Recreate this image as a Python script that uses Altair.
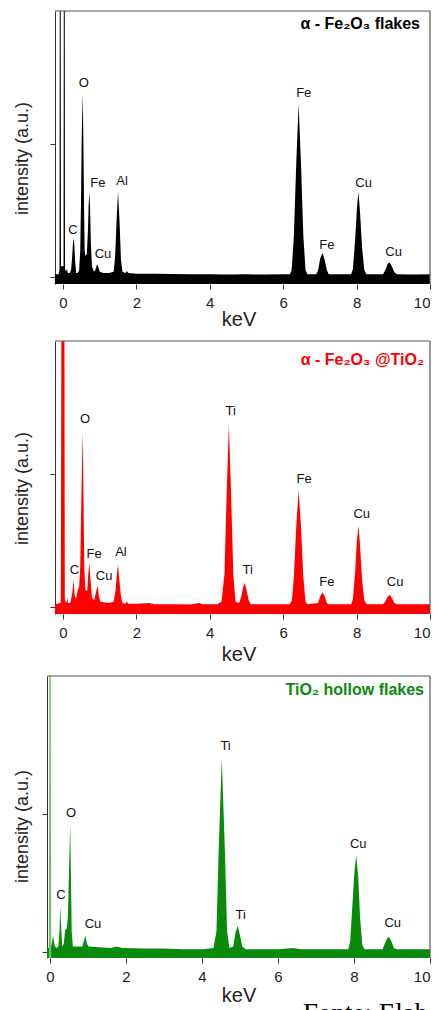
import altair as alt
import pandas as pd

FONT = "Liberation Sans"

# ---------------- Panel 1: alpha-Fe2O3 flakes (black) ----------------
e1 = [-0.22, -0.12, -0.095, -0.085, -0.065, -0.055, -0.03, 0.0, 0.015, 0.025, 0.045, 0.055,
      0.08, 0.11, 0.13, 0.18, 0.22, 0.25, 0.27, 0.29, 0.31, 0.33, 0.36, 0.40, 0.44, 0.47, 0.49,
      0.51, 0.535, 0.555, 0.575, 0.59, 0.61, 0.65, 0.68, 0.70, 0.72, 0.74, 0.76, 0.79, 0.84,
      0.88, 0.91, 0.94, 0.97, 1.00, 1.10, 1.25, 1.38, 1.42, 1.46, 1.50, 1.54, 1.58, 1.62,
      1.70, 1.74, 1.78, 2.0, 2.5, 3.0, 3.5, 4.0, 4.5, 5.0, 5.5, 6.0, 6.18, 6.23, 6.29, 6.355,
      6.42, 6.485, 6.55, 6.61, 6.66, 6.90, 6.95, 7.01, 7.07, 7.13, 7.19, 7.24, 7.85, 7.90,
      7.96, 8.01, 8.05, 8.09, 8.15, 8.21, 8.27, 8.72, 8.78, 8.85, 8.90, 8.96, 9.03, 9.10,
      9.5, 10.0]
i1 = [0.02, 0.02, 0.05, 3.0, 3.0, 0.08, 0.08, 0.08, 0.08, 3.0, 3.0, 0.06,
      0.04, 0.06, 0.03, 0.03, 0.05, 0.15, 0.25, 0.29, 0.24, 0.12, 0.03, 0.03, 0.05, 0.20, 0.55,
      1.05, 1.38, 1.05, 0.50, 0.20, 0.16, 0.17, 0.35, 0.55, 0.64, 0.50, 0.25, 0.08, 0.04,
      0.05, 0.08, 0.095, 0.07, 0.04, 0.03, 0.03, 0.04, 0.15, 0.42, 0.64, 0.42, 0.13, 0.04,
      0.03, 0.045, 0.03, 0.025, 0.025, 0.022, 0.02, 0.02, 0.018, 0.02, 0.018, 0.02, 0.02, 0.05, 0.30, 0.85,
      1.30, 0.85, 0.30, 0.05, 0.02, 0.02, 0.05, 0.14, 0.18, 0.13, 0.05, 0.02, 0.02, 0.06,
      0.28, 0.52, 0.64, 0.50, 0.22, 0.05, 0.02, 0.02, 0.05, 0.10, 0.108, 0.08, 0.035, 0.02,
      0.018, 0.02]
lab1_t = ["C", "O", "Fe", "Cu", "Al", "Fe", "Fe", "Cu", "Cu"]
lab1_x = [0.27, 0.57, 0.95, 1.09, 1.61, 6.56, 7.19, 8.19, 9.01]
lab1_y = [0.35, 1.46, 0.71, 0.17, 0.72, 1.38, 0.24, 0.71, 0.19]

# ---------------- Panel 2: alpha-Fe2O3@TiO2 (red) ----------------
e2 = [-0.22, -0.06, -0.035, 0.035, 0.05, 0.08, 0.10, 0.12, 0.14, 0.20, 0.25, 0.29, 0.32,
      0.36, 0.40, 0.44, 0.47, 0.50, 0.535, 0.56, 0.58, 0.61, 0.66, 0.69, 0.72, 0.75, 0.79,
      0.85, 0.89, 0.94, 0.98, 1.02, 1.10, 1.25, 1.38, 1.43, 1.47, 1.50, 1.53, 1.58, 1.62,
      1.70, 1.74, 1.78, 2.0, 2.35, 2.5, 3.0, 3.5, 3.69, 3.8, 4.2, 4.32, 4.40, 4.46, 4.52,
      4.58, 4.64, 4.70, 4.80, 4.86, 4.91, 4.95, 5.00, 5.06, 5.12, 6.18, 6.24, 6.29, 6.355,
      6.42, 6.485, 6.55, 6.61, 6.66, 6.95, 7.01, 7.07, 7.13, 7.19, 7.24, 7.85, 7.90, 7.96,
      8.01, 8.05, 8.09, 8.15, 8.21, 8.27, 8.72, 8.78, 8.85, 8.90, 8.96, 9.03, 9.10, 10.0]
i2 = [0.02, 0.03, 3.0, 3.0, 0.05, 0.04, 0.03, 0.07, 0.03, 0.03, 0.10, 0.20, 0.08,
      0.06, 0.13, 0.15, 0.30, 0.80, 1.32, 0.80, 0.30, 0.13, 0.12, 0.25, 0.33, 0.20, 0.07,
      0.05, 0.10, 0.16, 0.08, 0.04, 0.035, 0.03, 0.04, 0.12, 0.25, 0.32, 0.22, 0.08, 0.03,
      0.025, 0.04, 0.025, 0.025, 0.03, 0.02, 0.02, 0.018, 0.03, 0.02, 0.02, 0.04, 0.25, 0.85, 1.37,
      0.85, 0.25, 0.04, 0.03, 0.08, 0.15, 0.18, 0.13, 0.05, 0.02, 0.02, 0.05, 0.22, 0.60,
      0.88, 0.60, 0.22, 0.04, 0.02, 0.03, 0.08, 0.11, 0.08, 0.03, 0.02, 0.02, 0.06, 0.26,
      0.50, 0.61, 0.48, 0.20, 0.05, 0.02, 0.02, 0.04, 0.08, 0.09, 0.07, 0.03, 0.02, 0.02]
lab2_t = ["C", "O", "Fe", "Cu", "Al", "Ti", "Ti", "Fe", "Fe", "Cu", "Cu"]
lab2_x = [0.31, 0.60, 0.85, 1.12, 1.58, 4.57, 5.03, 6.57, 7.19, 8.14, 9.05]
lab2_y = [0.28, 1.41, 0.40, 0.23, 0.41, 1.47, 0.28, 0.96, 0.19, 0.70, 0.19]

# ---------------- Panel 3: TiO2 hollow flakes (green) ----------------
e3 = [-0.08, -0.02, 0.03, 0.08, 0.10, 0.12, 0.16, 0.22, 0.25, 0.27, 0.29, 0.32, 0.36, 0.40,
      0.44, 0.47, 0.50, 0.53, 0.55, 0.57, 0.60, 0.70, 0.85, 0.89, 0.93, 0.97, 1.02, 1.3, 1.6,
      1.75, 1.9, 2.5, 3.0, 3.5, 4.0, 4.30, 4.38, 4.44, 4.52, 4.60, 4.66, 4.72, 4.82, 4.88,
      4.94, 5.00, 5.06, 5.15, 6.0, 6.4, 6.6, 7.85, 7.90, 7.96, 8.01, 8.06, 8.11, 8.16, 8.22,
      8.28, 8.75, 8.81, 8.87, 8.92, 8.98, 9.05, 9.12, 10.0]
i3 = [0.03, 0.03, 0.04, 0.12, 0.08, 0.05, 0.03, 0.04, 0.15, 0.33, 0.20, 0.04, 0.06, 0.16,
      0.17, 0.25, 0.60, 0.92, 0.55, 0.15, 0.04, 0.04, 0.04, 0.08, 0.12, 0.06, 0.04, 0.035, 0.03,
      0.04, 0.03, 0.025, 0.025, 0.02, 0.02, 0.03, 0.15, 0.75, 1.40, 0.75, 0.15, 0.03, 0.04, 0.14,
      0.19, 0.12, 0.04, 0.02, 0.02, 0.03, 0.02, 0.02, 0.08, 0.35, 0.58, 0.70, 0.55, 0.25, 0.05,
      0.02, 0.02, 0.06, 0.10, 0.11, 0.08, 0.03, 0.02, 0.02]
spike3_e = [-0.03, -0.012, 0.012, 0.03]
spike3_i = [0.03, 3.0, 3.0, 0.03]
lab3_t = ["C", "O", "Cu", "Ti", "Ti", "Cu", "Cu"]
lab3_x = [0.29, 0.55, 1.13, 4.62, 5.02, 8.11, 9.02]
lab3_y = [0.41, 1.01, 0.20, 1.49, 0.27, 0.78, 0.21]

titles = ["α - Fe₂O₃ flakes", "α - Fe₂O₃ @TiO₂", "TiO₂ hollow flakes"]
colors = ["#000000", "#ff0000", "#0a8a0a"]
x_ticks = list(range(0, 11))
footer = "Fonte: Elaboração própria."

FRAME = "#555"
W = 383


def panel(e, i, lt, lx, ly, title, color, xdom, xstart, ydom, h, yoff, ytpad, ytitle_y,
          ttl_dx, ttl_y, xtpad, extra=None, foot=False):
    df = pd.DataFrame({"keV": e, "I": i})
    ldf = pd.DataFrame({"keV": lx, "I": ly, "t": lt})
    x = alt.X("keV:Q", scale=alt.Scale(domain=xdom, nice=False, zero=False),
              axis=alt.Axis(values=x_ticks, title="keV", domain=False,
                            labelExpr="datum.value % 2 == 0 ? datum.label : ''",
                            titlePadding=xtpad))
    y = alt.Y("I:Q", scale=alt.Scale(domain=ydom, nice=False, zero=False),
              axis=alt.Axis(values=[0, 1], labels=False, title="intensity (a.u.)",
                            titlePadding=ytpad, titleY=ytitle_y, offset=yoff))
    layers = []
    area = alt.Chart(df).mark_area(color=color, clip=True, interpolate="linear").encode(
        x=x, y=y, y2=alt.datum(ydom[0]))
    layers.append(area)
    if extra is not None:
        layers.append(extra)
    # frame: top and right borders
    top = alt.Chart(pd.DataFrame({"a": [xstart], "b": [xdom[1]], "y": [ydom[1]]})).mark_rule(
        color=FRAME, strokeWidth=1.2).encode(x="a:Q", x2="b:Q", y="y:Q")
    right = alt.Chart(pd.DataFrame({"x": [xdom[1]], "a": [ydom[0]], "b": [ydom[1]]})).mark_rule(
        color=FRAME, strokeWidth=1.2).encode(x="x:Q", y="a:Q", y2="b:Q")
    layers += [top, right]
    labels = alt.Chart(ldf).mark_text(font=FONT, fontSize=13, color="#111",
                                      baseline="middle").encode(x="keV:Q", y="I:Q", text="t:N")
    layers.append(labels)
    ttl = alt.Chart(pd.DataFrame({"t": [title]})).mark_text(
        font=FONT, fontSize=16, fontWeight="bold", color=color, align="right",
        baseline="middle").encode(x=alt.value(W - ttl_dx), y=alt.value(ttl_y), text="t:N")
    layers.append(ttl)
    if foot:
        f = alt.Chart(pd.DataFrame({"t": [footer]})).mark_text(
            font="Liberation Serif", fontSize=27, color="#000", align="left",
            baseline="top", limit=129, ellipsis="\u200b").encode(
            x=alt.value(256), y=alt.value(325), text="t:N")
        layers.append(f)
    return alt.layer(*layers).properties(width=W, height=h)


spike3 = alt.Chart(pd.DataFrame({"keV": spike3_e, "I": spike3_i})).mark_area(
    color="#6cc06c", clip=True).encode(x="keV:Q", y="I:Q", y2=alt.datum(-0.043))

# panels 1-2: plot area spans 46..429 px, axis drawn 8 px inside (x = -0.22)
p1 = panel(e1, i1, lab1_t, lab1_x, lab1_y, titles[0], colors[0], [-0.4356, 10], -0.22,
           [-0.053, 2.0], 273, -8, 18, 147, 10, 13, -1)
p2 = panel(e2, i2, lab2_t, lab2_x, lab2_y, titles[1], colors[1], [-0.4356, 10], -0.22,
           [-0.053, 2.0], 273, -8, 18, 147, 6, 19, 4)
p3 = panel(e3, i3, lab3_t, lab3_x, lab3_y, titles[2], colors[2], [-0.08, 10], -0.08,
           [-0.043, 2.0], 282, 0, 10, 150, 6, 14, 1, extra=spike3, foot=True)

chart = alt.vconcat(p1, p2, p3, spacing=11).properties(
    padding={"left": 5, "top": 2, "right": 0, "bottom": 0}
).configure_view(stroke=None).configure_axis(
    grid=False, domainColor="#333", tickColor="#333", tickSize=5,
    labelFont=FONT, titleFont=FONT, labelColor="#222", titleColor="#222",
    labelFontSize=15, titleFontWeight="normal", labelPadding=6
).configure_axisX(titleFontSize=20).configure_axisY(titleFontSize=18)

chart.save("out.html", embed_options={"renderer": "svg", "actions": False})
